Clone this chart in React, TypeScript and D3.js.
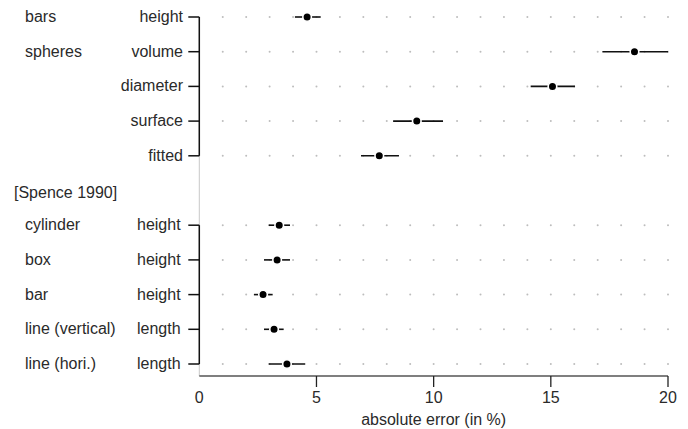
import React from "react";
import * as d3 from "d3";

const groupLabels = ["bars", "spheres", "", "", "", "[Spence 1990]", "cylinder", "box", "bar", "line (vertical)", "line (hori.)"];
const measureLabels = ["height", "volume", "diameter", "surface", "fitted", "", "height", "height", "height", "length", "length"];
const means = [4.6, 18.57, 15.07, 9.28, 7.68, NaN, 3.41, 3.32, 2.72, 3.19, 3.74];
const lows = [4.08, 17.2, 14.14, 8.27, 6.9, NaN, 2.96, 2.76, 2.33, 2.76, 2.96];
const highs = [5.18, 20.0, 16.03, 10.4, 8.52, NaN, 3.87, 3.87, 3.13, 3.6, 4.52];
const xTicks = [0, 5, 10, 15, 20];
const dotGrid = d3.range(1, 21);
const axisTitle = "absolute error (in %)";

const W = 688;
const H = 429;
const FONT = "'Liberation Sans', Arial, sans-serif";

export default function App() {
  const x = d3.scaleLinear().domain([0, 20]).range([199.3, 668]);
  const idx = d3.range(groupLabels.length);
  const y = d3.scalePoint<number>().domain(idx).range([17, 364]);
  const x0 = x(0);
  const axisY = 376;
  const rows = idx.filter((i) => !isNaN(means[i]));
  const groups = [
    [0, 4],
    [6, 10],
  ];
  const textColor = "#2a2a2a";

  return (
    <svg width={W} height={H} style={{ position: "absolute", left: 0, top: 0, background: "#fff" }}>
      <line x1={x0} x2={x0} y1={y(0)} y2={axisY} stroke="#c8c8c8" strokeWidth={1} />
      {rows.map((i) =>
        dotGrid.map((v) => (
          <circle key={`g${i}-${v}`} cx={x(v)} cy={y(i)} r={1} fill="#bdbdbd" />
        ))
      )}
      {groups.map(([a, b]) => (
        <line key={`ya${a}`} x1={x0} x2={x0} y1={y(a)} y2={y(b)} stroke="#111" strokeWidth={1.5} />
      ))}
      {rows.map((i) => (
        <line key={`yt${i}`} x1={x0 - 11} x2={x0} y1={y(i)} y2={y(i)} stroke="#111" strokeWidth={1.5} />
      ))}
      <line x1={x0} x2={x(20)} y1={axisY} y2={axisY} stroke="#555" strokeWidth={1.6} />
      {xTicks.filter((t) => t !== 0).map((t) => (
        <line key={`xt${t}`} x1={x(t)} x2={x(t)} y1={axisY} y2={axisY + 11} stroke="#222" strokeWidth={1.3} />
      ))}
      {xTicks.map((t) => (
        <text key={`xl${t}`} x={x(t)} y={402.5} textAnchor="middle" fontFamily={FONT} fontSize={16} fill={textColor}>
          {t}
        </text>
      ))}
      <text x={(x(0) + x(20)) / 2} y={424.5} textAnchor="middle" fontFamily={FONT} fontSize={16} fill={textColor}>
        {axisTitle}
      </text>
      {rows.map((i) => (
        <g key={`e${i}`}>
          <line x1={x(lows[i])} x2={x(highs[i])} y1={y(i)} y2={y(i)} stroke="#111" strokeWidth={1.6} />
          <circle cx={x(means[i])} cy={y(i)} r={4.3} fill="#000" stroke="#fff" strokeWidth={1.6} />
        </g>
      ))}
      {idx.map((i) => {
        const yy = y(i) + 5;
        const isSpence = i === 5;
        const gx = isSpence ? 14 : 25;
        const mAnchor = i >= 6 ? "start" : "end";
        const mx = i >= 6 ? 137 : 183;
        return (
          <g key={`l${i}`}>
            {groupLabels[i] && (
              <text x={gx} y={isSpence ? yy + 2 : yy} fontFamily={FONT} fontSize={16} fill={textColor}>
                {groupLabels[i]}
              </text>
            )}
            {measureLabels[i] && (
              <text x={mx} y={yy} textAnchor={mAnchor} fontFamily={FONT} fontSize={16} fill={textColor}>
                {measureLabels[i]}
              </text>
            )}
          </g>
        );
      })}
    </svg>
  );
}
